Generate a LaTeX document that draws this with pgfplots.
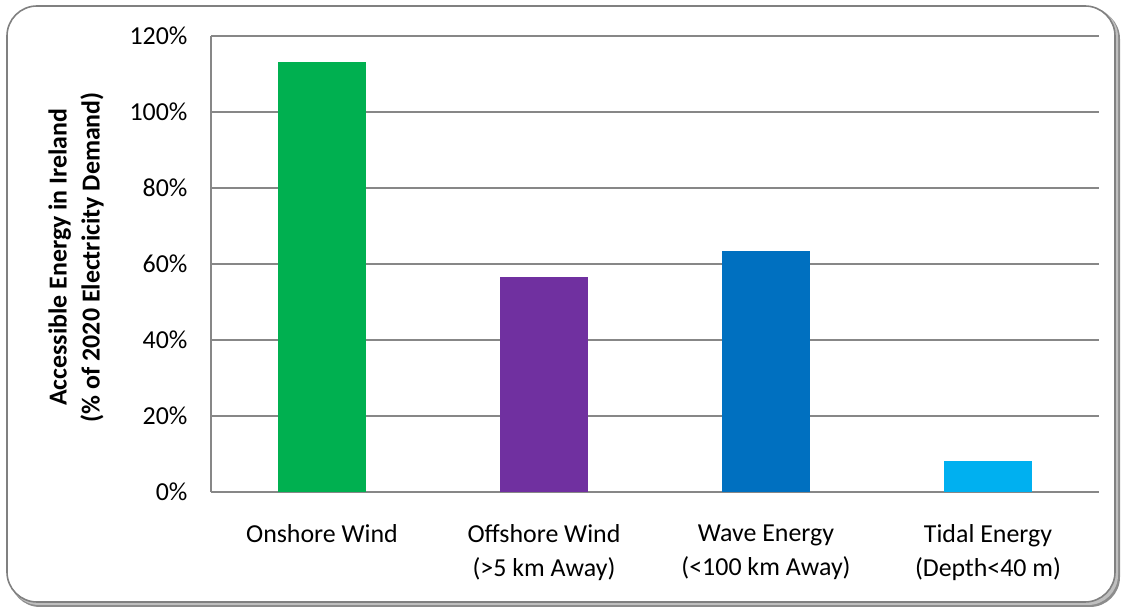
\documentclass[border=0pt]{standalone}
\usepackage{pgfplots}
\pgfplotsset{compat=1.18}
\usepackage{fontspec}
\setmainfont{Carlito}
\definecolor{cgreen}{HTML}{00B050}
\definecolor{cpurple}{HTML}{7030A0}
\definecolor{cblue}{HTML}{0070C0}
\definecolor{clight}{HTML}{00B0F0}
\definecolor{gridc}{HTML}{878787}
\begin{document}
\begin{tikzpicture}[x=1bp,y=1bp]
\useasboundingbox (0,0) rectangle (1124,608);
% shadow
\fill[black!45, rounded corners=30bp] (10,1) rectangle (1120,599);
\fill[black!25, rounded corners=30bp] (9,3) rectangle (1118,601);
% frame
\filldraw[fill=white, draw=black!50, line width=1.6bp, rounded corners=30bp] (7,6) rectangle (1115,602);
\begin{axis}[
  at={(211bp,116bp)}, anchor=south west,
  scale only axis, width=888bp, height=456bp,
  xmin=-0.5, xmax=3.5, ymin=0, ymax=120,
  ybar, bar width=0.396, bar shift=0pt,
  xtick={0,1,2,3},
  xticklabels={Onshore Wind, Offshore Wind\\(>5 km Away), Wave Energy\\(<100 km Away), Tidal Energy\\(Depth<40 m)},
  xticklabel style={align=center, font=\fontsize{26}{34}\selectfont, yshift=-29bp},
  ytick={0,20,40,60,80,100,120},
  yticklabels={0\%,20\%,40\%,60\%,80\%,100\%,120\%},
  yticklabel style={font=\fontsize{26}{30}\selectfont, xshift=-20bp},
  major tick length=0pt,
  ymajorgrids, grid style={gridc, line width=1.2bp},
  axis x line*=bottom, axis y line*=left,
  axis line style={gridc, line width=1.6bp},
  every axis y label/.style={at={(axis description cs:-0.152,0.515)}, rotate=90, anchor=center},
  ylabel={Accessible Energy in Ireland\\(\% of 2020 Electricity Demand)},
  ylabel style={align=center, font=\bfseries\fontsize{26}{33}\selectfont},
  clip=false,
]
\addplot[fill=cgreen, draw=none] coordinates {(0,113.2)};
\addplot[fill=cpurple, draw=none] coordinates {(1,56.6)};
\addplot[fill=cblue, draw=none] coordinates {(2,63.4)};
\addplot[fill=clight, draw=none] coordinates {(3,8.2)};
\end{axis}
\end{tikzpicture}
\end{document}
